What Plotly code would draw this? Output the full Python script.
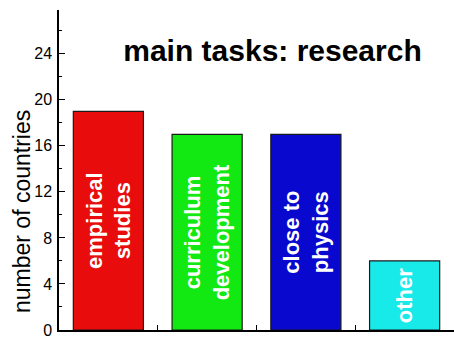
import plotly.graph_objects as go

# Main research tasks reported by countries
categories = ["empirical studies", "curriculum development", "close to physics", "other"]
bar_labels = ["empirical<br>studies", "curriculum<br>development", "close to<br>physics", "other"]
countries = [19, 17, 17, 6]
bar_colors = ["#E80C0C", "#12E812", "#0808CF", "#18EAEA"]

y_ticks = [0, 4, 8, 12, 16, 20, 24]

FONT = "Liberation Sans, Arial, Helvetica, sans-serif"

fig = go.Figure(
    go.Bar(
        x=categories,
        y=countries,
        width=0.71,
        marker=dict(color=bar_colors, line=dict(color="#1a1a1a", width=1.2)),
        text=bar_labels,
        textposition="inside",
        insidetextanchor="middle",
        textangle=-90,
        constraintext="none",
        textfont=dict(family=FONT, size=22, color="white", weight="bold"),
        hoverinfo="skip",
    )
)

fig.update_layout(
    width=454,
    height=338,
    margin=dict(l=59, r=0, t=10, b=8),
    paper_bgcolor="white",
    plot_bgcolor="white",
    showlegend=False,
    title=dict(
        text="main tasks: research",
        font=dict(family=FONT, size=30, color="black", weight="bold"),
        xref="container",
        x=272.5 / 454,
        xanchor="center",
        yref="container",
        y=1 - 50 / 338,
        yanchor="middle",
    ),
    annotations=[
        dict(
            text="number of countries",
            xref="paper",
            yref="paper",
            x=-(59 - 22) / 395,
            y=(330 - 212) / 320,
            xanchor="center",
            yanchor="middle",
            textangle=-90,
            showarrow=False,
            font=dict(family=FONT, size=23, color="black"),
        )
    ],
)

fig.update_xaxes(
    type="category",
    range=[-0.5, 3.5],
    showline=True,
    linecolor="black",
    linewidth=1.5,
    ticks="inside",
    tickson="boundaries",
    ticklen=5,
    tickcolor="black",
    tickwidth=1.2,
    showticklabels=False,
    showgrid=False,
    zeroline=False,
)

fig.update_yaxes(
    range=[0, 27.8],
    showline=True,
    linecolor="black",
    linewidth=1.5,
    ticks="inside",
    tickvals=y_ticks,
    ticklen=6,
    tickcolor="black",
    tickwidth=1.2,
    minor=dict(dtick=2, tick0=0, ticks="inside", ticklen=3, tickcolor="black", tickwidth=1),
    tickfont=dict(family=FONT, size=16, color="black"),
    ticklabelstandoff=2,
    ticklabeloverflow="allow",
    showgrid=False,
    zeroline=False,
)

fig.write_html("out.html")
